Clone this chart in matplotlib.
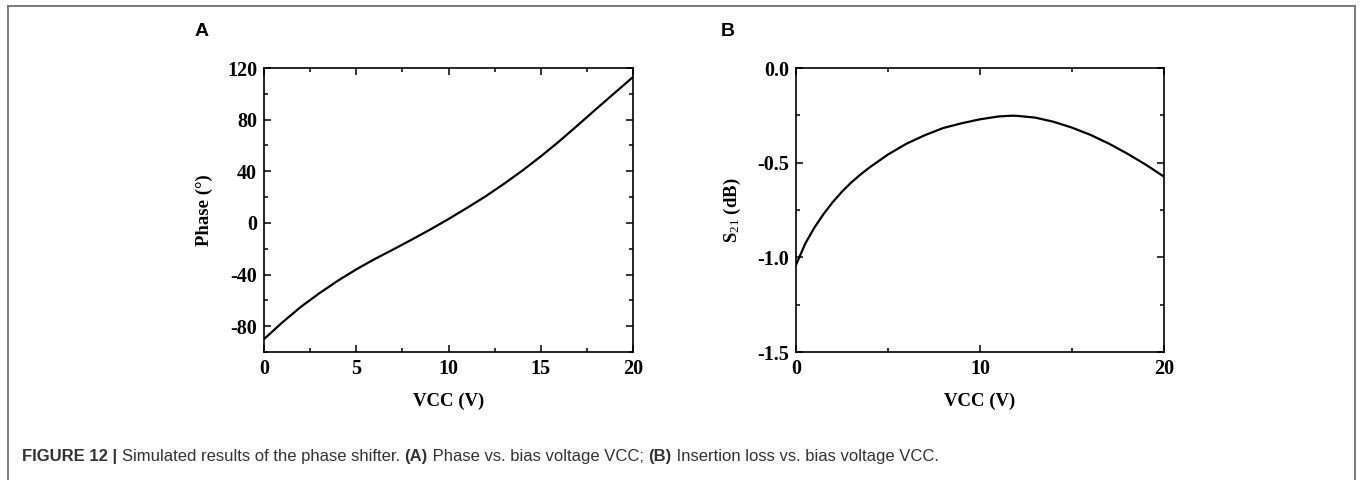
import matplotlib
matplotlib.use("Agg")
import matplotlib.pyplot as plt
from matplotlib.lines import Line2D
from matplotlib.ticker import MultipleLocator

# ---- data ----
vcc_a = [0, 1, 2, 3, 4, 5, 6, 7, 8, 9, 10, 11, 12, 13, 14, 15, 16, 17, 18, 19, 20]
phase = [-90, -77, -65, -54.5, -44.8, -36.0, -28.0, -20.6, -13.0, -5.2, 3.0,
         11.6, 20.5, 30.2, 40.5, 51.5, 63.2, 75.6, 88.2, 100.6, 113]

vcc_b = [0, 0.5, 1, 1.5, 2, 2.5, 3, 3.5, 4, 5, 6, 7, 8, 9, 10, 11, 11.7, 12, 13,
         14, 15, 16, 17, 18, 19, 20]
s21 = [-1.04, -0.928, -0.843, -0.771, -0.708, -0.653, -0.605, -0.563, -0.525,
       -0.457, -0.400, -0.355, -0.317, -0.292, -0.271, -0.256, -0.252, -0.2525,
       -0.262, -0.284, -0.315, -0.353, -0.399, -0.452, -0.510, -0.574]

phase_ticks = [-80, -40, 0, 40, 80, 120]
s21_ticks = [-1.5, -1.0, -0.5, 0.0]

plt.rcParams["mathtext.fontset"] = "custom"
plt.rcParams["mathtext.rm"] = "Liberation Serif"
plt.rcParams["mathtext.bf"] = "Liberation Serif:bold"
plt.rcParams["mathtext.it"] = "Liberation Serif:italic"

W, H = 1360, 480
fig = plt.figure(figsize=(W / 100, H / 100), dpi=100)
fig.patch.set_facecolor("white")

# figure border (left, top, right)
bc = "#7a7a7a"
fig.add_artist(Line2D([8 / W, 8 / W], [0, 1 - 6 / H], transform=fig.transFigure, color=bc, lw=1.4))
fig.add_artist(Line2D([8 / W, 1355 / W], [1 - 6 / H, 1 - 6 / H], transform=fig.transFigure, color=bc, lw=1.4))
fig.add_artist(Line2D([1355 / W, 1355 / W], [0, 1 - 6 / H], transform=fig.transFigure, color=bc, lw=1.4))

serif = "Liberation Serif"
tick_fs = 14.5
lab_fs = 13.5


def style(ax):
    for s in ax.spines.values():
        s.set_linewidth(1.2)
    ax.tick_params(which="both", direction="in", top=True, right=True,
                   labelsize=tick_fs, width=1.1)
    ax.tick_params(which="major", length=5, pad=5)
    ax.tick_params(which="minor", length=3)
    for lbl in ax.get_xticklabels() + ax.get_yticklabels():
        lbl.set_fontfamily(serif)
        lbl.set_fontweight("bold")


# ---- panel A ----
axA = fig.add_axes([264 / W, 1 - 352 / H, (633 - 264) / W, (352 - 68) / H])
axA.plot(vcc_a, phase, color="black", lw=1.6, solid_joinstyle="round")
axA.set_xlim(0, 20)
axA.set_ylim(-100, 120)
axA.set_yticks(phase_ticks)
axA.set_yticklabels([str(t) for t in phase_ticks])
axA.xaxis.set_major_locator(MultipleLocator(5))
axA.xaxis.set_minor_locator(MultipleLocator(2.5))
axA.yaxis.set_minor_locator(MultipleLocator(20))
style(axA)
axA.set_xlabel("VCC (V)", fontfamily=serif, fontweight="bold", fontsize=lab_fs, labelpad=10)
axA.set_ylabel("Phase (°)", fontfamily=serif, fontweight="bold", fontsize=lab_fs, labelpad=10)

# ---- panel B ----
axB = fig.add_axes([796 / W, 1 - 352 / H, (1164 - 796) / W, (352 - 68) / H])
axB.plot(vcc_b, s21, color="black", lw=1.6, solid_joinstyle="round")
axB.set_xlim(0, 20)
axB.set_ylim(-1.5, 0.0)
axB.set_yticks(s21_ticks)
axB.set_yticklabels([f"{t:.1f}" for t in s21_ticks])
axB.xaxis.set_major_locator(MultipleLocator(10))
axB.xaxis.set_minor_locator(MultipleLocator(5))
axB.yaxis.set_minor_locator(MultipleLocator(0.25))
style(axB)
axB.set_xlabel("VCC (V)", fontfamily=serif, fontweight="bold", fontsize=lab_fs, labelpad=10)
axB.set_ylabel(r"S$_{\mathrm{21}}$ (dB)", fontfamily=serif, fontweight="bold", fontsize=lab_fs, labelpad=10)

# panel letters
fig.text(195 / W, 1 - 32 / H, "A", fontfamily="Liberation Sans", fontweight="bold", fontsize=14, va="center")
fig.text(721 / W, 1 - 32 / H, "B", fontfamily="Liberation Sans", fontweight="bold", fontsize=14, va="center")

# caption with mixed weights
segments = [
    ("FIGURE 12 | ", "bold"),
    ("Simulated results of the phase shifter. ", "normal"),
    ("(A)", "bold"),
    (" Phase vs. bias voltage VCC; ", "normal"),
    ("(B)", "bold"),
    (" Insertion loss vs. bias voltage VCC.", "normal"),
]
fig.canvas.draw()
renderer = fig.canvas.get_renderer()
xpos = 22
for txt, wt in segments:
    t = fig.text(xpos / W, 1 - 457 / H, txt, fontfamily="Liberation Sans", fontweight=wt,
                 fontsize=12, color="#333333", va="center", ha="left")
    bb = t.get_window_extent(renderer=renderer)
    xpos += bb.width

fig.savefig("out.png", dpi=100)
